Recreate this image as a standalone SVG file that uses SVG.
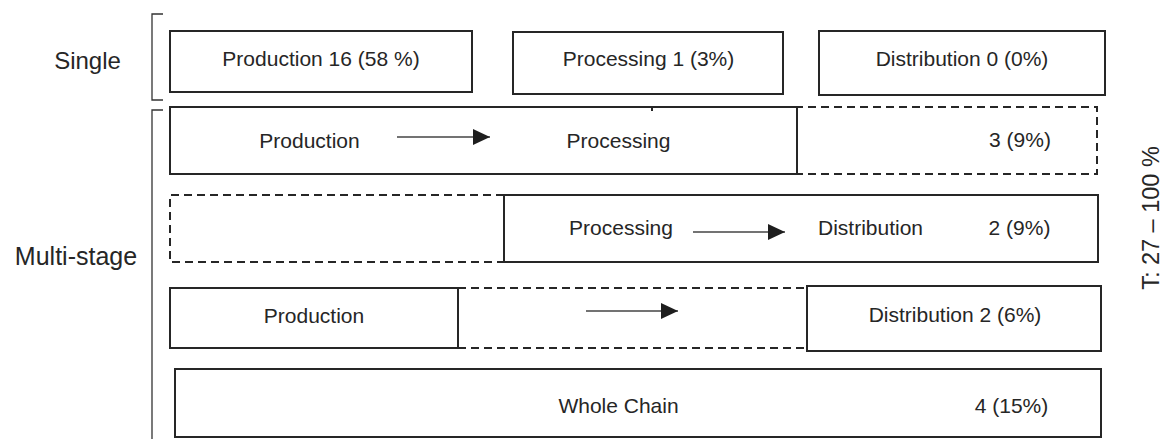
<svg xmlns="http://www.w3.org/2000/svg" width="1164" height="439" viewBox="0 0 1164 439">
  <style>
    .box { fill: none; stroke: #262626; stroke-width: 2; }
    .fill { fill: #ffffff; stroke: #262626; stroke-width: 2; }
    .dash { fill: none; stroke: #262626; stroke-width: 2; stroke-dasharray: 8 5; }
    .brace { fill: none; stroke: #333333; stroke-width: 1.3; }
    .flow { stroke: #444444; stroke-width: 1.4; fill: none; marker-end: url(#head); }
    text { font-family: "Liberation Sans", Arial, sans-serif; font-size: 21px; fill: #262626; text-anchor: middle; }
    .side { font-size: 24px; }
    .total { font-size: 23.5px; }
  </style>
  <defs>
    <marker id="head" markerWidth="18" markerHeight="18" refX="17" refY="8" orient="auto" markerUnits="userSpaceOnUse">
      <path d="M0,0 L17,8 L0,16 Z" fill="#1e1e1e"/>
    </marker>
  </defs>
  <rect width="1164" height="439" fill="#ffffff"/>

  <!-- category brackets and labels -->
  <g id="category-single">
    <path class="brace" d="M163,14 H152 V100 H163"/>
    <text class="side" x="87.5" y="69">Single</text>
  </g>
  <g id="category-multi">
    <path class="brace" d="M163,110 H152 V439"/>
    <text class="side" x="76" y="265" style="font-size:25px">Multi-stage</text>
  </g>

  <!-- single-stage boxes -->
  <g id="single-production">
    <rect class="box" x="170" y="31" width="302" height="61"/>
    <text x="321" y="66">Production 16 (58 %)</text>
  </g>
  <g id="single-processing">
    <rect class="box" x="513" y="32" width="270" height="62"/>
    <text x="648.5" y="66">Processing 1 (3%)</text>
  </g>
  <g id="single-distribution">
    <rect class="box" x="819" y="31" width="286" height="64"/>
    <text x="962" y="66">Distribution 0 (0%)</text>
  </g>

  <!-- production to processing -->
  <g id="multi-prod-proc">
    <rect class="box" x="170" y="107" width="627" height="67"/>
    <path class="dash" d="M652,107 H1097 V174 H652"/>
    <path class="box" d="M652,107 V111"/>
    <text x="309.5" y="148">Production</text>
    <text x="618.5" y="148">Processing</text>
    <text x="1020" y="147">3 (9%)</text>
  </g>

  <!-- processing to distribution -->
  <g id="multi-proc-dist">
    <path class="dash" d="M504,195 H170 V262 H504"/>
    <rect class="fill" x="504" y="195" width="594" height="67"/>
    <text x="621" y="235">Processing</text>
    <text x="870.5" y="235">Distribution</text>
    <text x="1019.5" y="235">2 (9%)</text>
  </g>

  <!-- production to distribution -->
  <g id="multi-prod-dist">
    <path class="dash" d="M458,288 H807 M458,348 H807"/>
    <rect class="fill" x="170" y="288" width="288" height="60"/>
    <rect class="fill" x="807" y="286" width="294" height="65"/>
    <text x="314" y="323">Production</text>
    <text x="955" y="322">Distribution 2 (6%)</text>
  </g>

  <!-- whole chain -->
  <g id="multi-whole-chain">
    <rect class="box" x="175" y="369" width="926" height="68"/>
    <text x="618.5" y="413">Whole Chain</text>
    <text x="1011.5" y="413">4 (15%)</text>
  </g>

  <!-- total -->
  <g id="total">
    <text class="total" transform="translate(1159,218) rotate(-90)">T: 27 – 100 %</text>
  </g>

  <!-- flow arrows -->
  <g id="connectors">
    <line class="flow" x1="397" y1="137" x2="490" y2="137"/>
    <line class="flow" x1="693" y1="232" x2="785" y2="232"/>
    <line class="flow" x1="586" y1="311" x2="678" y2="311"/>
  </g>
</svg>
